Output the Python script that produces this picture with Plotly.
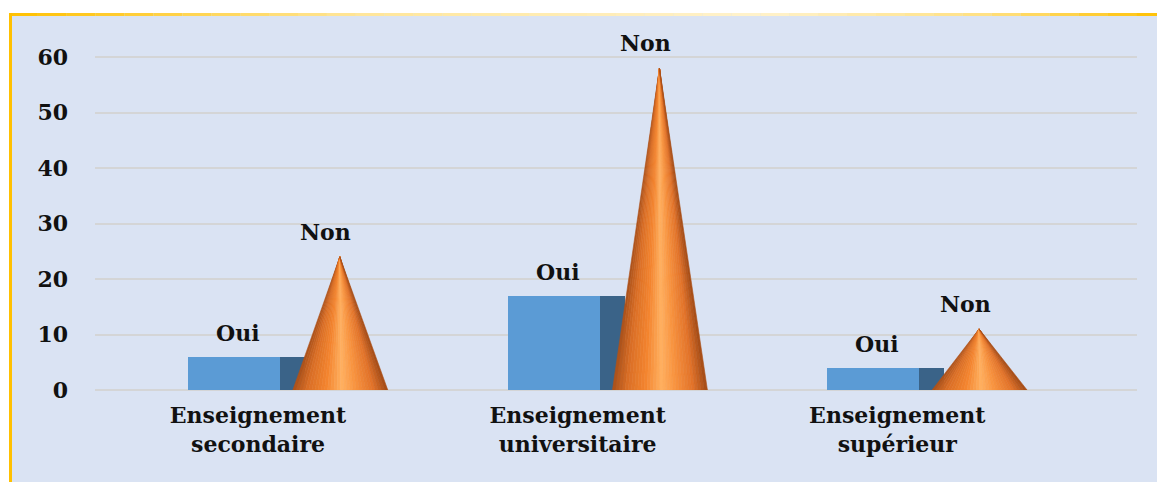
import plotly.graph_objects as go

categories = ["Enseignement<br>secondaire", "Enseignement<br>universitaire", "Enseignement<br>supérieur"]
oui_values = [6, 17, 4]
non_values = [24, 58, 11]
y_ticks = [0, 10, 20, 30, 40, 50, 60]

# page body has an 8px margin; figure is sized to fill the rest of the window
OFF = 8
W, H = 1165 - OFF, 482 - OFF
L, R, T, B = 87, 28, 27, 92

xpos = list(range(len(categories)))

FONT = "DejaVu Serif"

def hex2rgb(h):
    h = h.lstrip("#")
    return tuple(int(h[i:i+2], 16) for i in (0, 2, 4))

def lerp_color(stops, t):
    for (t0, c0), (t1, c1) in zip(stops, stops[1:]):
        if t0 <= t <= t1:
            f = 0 if t1 == t0 else (t - t0) / (t1 - t0)
            a, b = hex2rgb(c0), hex2rgb(c1)
            return "rgb(%d,%d,%d)" % tuple(round(a[k] + (b[k] - a[k]) * f) for k in range(3))
    return stops[-1][1]

fig = go.Figure()

# Oui bars: front face and dark side face
fig.add_trace(go.Bar(x=xpos, y=oui_values, width=0.078, offset=0.069,
                     marker=dict(color="#3a6388", line=dict(width=0)),
                     hoverinfo="skip", showlegend=False))
fig.add_trace(go.Bar(x=xpos, y=oui_values, width=0.288, offset=-0.219,
                     marker=dict(color="#5b9bd5", line=dict(width=0)),
                     hoverinfo="skip", showlegend=False))

# Non cones: shaded triangles sliced from apex to base
cone_left, cone_apex, cone_right = 0.109, 0.256, 0.406
stops = [(0.0, "#a9501a"), (0.15, "#d96e26"), (0.35, "#f4852f"), (0.52, "#ffb060"),
         (0.66, "#f99440"), (0.85, "#e2732a"), (1.0, "#a24b16")]
N = 30
for i in range(N):
    t0, t1 = i / N, (i + 1) / N
    xs, ys = [], []
    for xc, v in zip(xpos, non_values):
        a = xc + cone_left + (cone_right - cone_left) * t0
        b = xc + cone_left + (cone_right - cone_left) * t1
        xs += [xc + cone_apex, a, b, xc + cone_apex, None]
        ys += [v, 0, 0, v, None]
    col = lerp_color(stops, (t0 + t1) / 2)
    fig.add_trace(go.Scatter(x=xs, y=ys, mode="lines", fill="toself", fillcolor=col,
                             line=dict(color=col, width=0.6), hoverinfo="skip",
                             showlegend=False))

# Value labels
for xc, v in zip(xpos, oui_values):
    fig.add_annotation(x=xc - 0.0625, y=v, text="<b>Oui</b>", showarrow=False,
                       yanchor="middle", yshift=24,
                       font=dict(family=FONT, size=22, color="#111111"))
for xc, v in zip(xpos, non_values):
    fig.add_annotation(x=xc + 0.2125, y=v, text="<b>Non</b>", showarrow=False,
                       yanchor="middle", yshift=25,
                       font=dict(family=FONT, size=22, color="#111111"))

# Frame background (coordinates in screenshot pixels)
pw, ph = W - L - R, H - T - B
def px(x):
    return (x - OFF - L) / pw
def py(y):
    return (H - B - (y - OFF)) / ph

shapes = [dict(type="rect", xref="paper", yref="paper", x0=px(9), x1=px(1175),
               y0=py(490), y1=py(13), fillcolor="#dae3f3", line=dict(width=0),
               layer="below")]
top_stops = [(0.0, "#ffc000"), (0.3, "#ffe699"), (0.65, "#fff2cc"), (0.85, "#ffe080"), (1.0, "#ffc000")]
NS = 40
for i in range(NS):
    x0 = 9 + (1165 - 9) * i / NS
    x1 = 9 + (1165 - 9) * (i + 1) / NS
    col = lerp_color(top_stops, (i + 0.5) / NS)
    shapes.append(dict(type="line", xref="paper", yref="paper", x0=px(x0), x1=px(x1),
                       y0=py(14.5), y1=py(14.5), line=dict(color=col, width=3), layer="below"))
shapes.append(dict(type="line", xref="paper", yref="paper", x0=px(10.5), x1=px(10.5),
                   y0=py(13), y1=py(490), line=dict(color="#ffc000", width=3), layer="below"))

fig.update_layout(
    width=W, height=H,
    margin=dict(l=L, r=R, t=T, b=B, pad=0),
    paper_bgcolor="white", plot_bgcolor="rgba(0,0,0,0)",
    barmode="overlay", bargap=0,
    shapes=shapes,
    xaxis=dict(range=[-0.51, 2.75], tickmode="array", tickvals=xpos,
               ticktext=["<b>%s</b>" % c for c in categories],
               showgrid=False, zeroline=False, showline=False, ticks="",
               tickfont=dict(family=FONT, size=22, color="#111111"),
               ticklabelstandoff=10),
    yaxis=dict(range=[0, 64], tickmode="array", tickvals=y_ticks,
               ticktext=["<b>%d</b>" % v for v in y_ticks],
               showgrid=True, gridcolor="#d4d5d6", gridwidth=1.5,
               zeroline=True, zerolinecolor="#d4d5d6", zerolinewidth=1.5,
               showline=False, ticks="",
               tickfont=dict(family=FONT, size=22, color="#111111"),
               ticklabelstandoff=26),
    showlegend=False,
)

fig.write_html("out.html")
